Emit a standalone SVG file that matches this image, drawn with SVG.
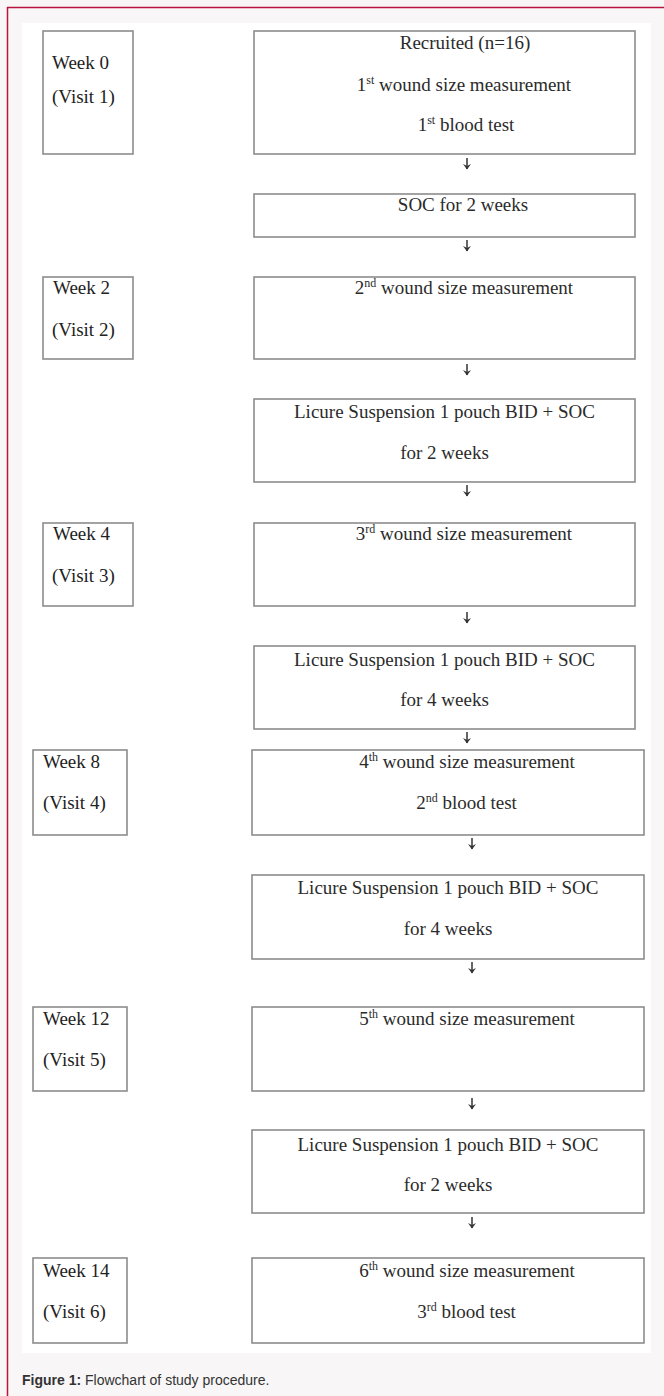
<svg xmlns="http://www.w3.org/2000/svg" width="664" height="1396" viewBox="0 0 664 1396">
<style>
.box{fill:#fff;stroke:#8c8c8c;stroke-width:1.6}
.t{font-family:"Liberation Serif","Times New Roman",serif;font-size:19px;fill:#2b2b2b}
.l{font-family:"Liberation Serif","Times New Roman",serif;font-size:19px;fill:#222}
.m{text-anchor:middle}
.arr{fill:none;stroke:#333;stroke-width:1.5}
.cap{font-family:"Liberation Sans",Arial,sans-serif;font-size:14px;fill:#333}
</style>
<defs>
<marker id="ah" viewBox="0 0 8 8" refX="7.5" refY="4" markerWidth="8" markerHeight="8" markerUnits="userSpaceOnUse" orient="auto">
<path d="M2.5 0L8 4L2.5 8L4.5 4Z" fill="#333"/>
</marker>
</defs>
<rect x="0" y="0" width="664" height="1396" fill="#f8f6f7"/>
<rect x="22" y="23" width="629" height="1330" fill="#fff"/>
<line x1="7" y1="7.5" x2="664" y2="7.5" stroke="#b8143f" stroke-width="1.5"/>
<line x1="7.5" y1="7" x2="7.5" y2="1396" stroke="#b8143f" stroke-width="1.5"/>

<g id="w0"><rect class="box" x="43" y="31" width="90" height="123"/><text class="l" x="52" y="69">Week 0</text><text class="l" x="52" y="103">(Visit 1)</text></g>
<g id="b1"><rect class="box" x="254" y="31" width="381" height="123"/>
<text class="t m" x="465" y="49">Recruited (n=16)</text>
<text class="t m" x="464" y="91">1<tspan font-size="12" dy="-7">st</tspan><tspan dy="7"> wound size measurement</tspan></text>
<text class="t m" x="466" y="131">1<tspan font-size="12" dy="-7">st</tspan><tspan dy="7"> blood test</tspan></text></g>

<g id="b2"><rect class="box" x="254" y="194" width="381" height="43"/><text class="t m" x="463" y="211">SOC for 2 weeks</text></g>

<g id="w2"><rect class="box" x="43" y="277" width="90" height="82"/><text class="l" x="53" y="294">Week 2</text><text class="l" x="52" y="336">(Visit 2)</text></g>
<g id="b3"><rect class="box" x="254" y="277" width="381" height="82"/><text class="t m" x="464" y="294">2<tspan font-size="12" dy="-7">nd</tspan><tspan dy="7"> wound size measurement</tspan></text></g>

<g id="b4"><rect class="box" x="254" y="399" width="381" height="83"/><text class="t m" x="444.5" y="418">Licure Suspension 1 pouch BID + SOC</text><text class="t m" x="444.5" y="459">for 2 weeks</text></g>

<g id="w4"><rect class="box" x="43" y="523" width="90" height="83"/><text class="l" x="53" y="540">Week 4</text><text class="l" x="52" y="582">(Visit 3)</text></g>
<g id="b5"><rect class="box" x="254" y="523" width="381" height="83"/><text class="t m" x="464" y="540">3<tspan font-size="12" dy="-7">rd</tspan><tspan dy="7"> wound size measurement</tspan></text></g>

<g id="b6"><rect class="box" x="254" y="646" width="381" height="83"/><text class="t m" x="444.5" y="666">Licure Suspension 1 pouch BID + SOC</text><text class="t m" x="444.5" y="706">for 4 weeks</text></g>

<g id="w8"><rect class="box" x="33" y="750" width="94" height="85"/><text class="l" x="43" y="768">Week 8</text><text class="l" x="43" y="809">(Visit 4)</text></g>
<g id="b7"><rect class="box" x="252" y="750" width="392" height="85"/><text class="t m" x="467" y="768">4<tspan font-size="12" dy="-7">th</tspan><tspan dy="7"> wound size measurement</tspan></text><text class="t m" x="466.5" y="809">2<tspan font-size="12" dy="-7">nd</tspan><tspan dy="7"> blood test</tspan></text></g>

<g id="b8"><rect class="box" x="252" y="875" width="392" height="84"/><text class="t m" x="448" y="894">Licure Suspension 1 pouch BID + SOC</text><text class="t m" x="448" y="935">for 4 weeks</text></g>

<g id="w12"><rect class="box" x="33" y="1007" width="94" height="84"/><text class="l" x="43" y="1025">Week 12</text><text class="l" x="43" y="1066">(Visit 5)</text></g>
<g id="b9"><rect class="box" x="252" y="1007" width="392" height="84"/><text class="t m" x="467" y="1025">5<tspan font-size="12" dy="-7">th</tspan><tspan dy="7"> wound size measurement</tspan></text></g>

<g id="b10"><rect class="box" x="252" y="1130" width="392" height="83"/><text class="t m" x="448" y="1151">Licure Suspension 1 pouch BID + SOC</text><text class="t m" x="448" y="1191">for 2 weeks</text></g>

<g id="w14"><rect class="box" x="33" y="1258" width="94" height="85"/><text class="l" x="43" y="1277">Week 14</text><text class="l" x="43" y="1318">(Visit 6)</text></g>
<g id="b11"><rect class="box" x="252" y="1258" width="392" height="85"/><text class="t m" x="467" y="1277">6<tspan font-size="12" dy="-7">th</tspan><tspan dy="7"> wound size measurement</tspan></text><text class="t m" x="466.5" y="1318">3<tspan font-size="12" dy="-7">rd</tspan><tspan dy="7"> blood test</tspan></text></g>

<g id="connectors">
<path class="arr" marker-end="url(#ah)" d="M467 158v11"/>
<path class="arr" marker-end="url(#ah)" d="M467 240v11"/>
<path class="arr" marker-end="url(#ah)" d="M467 364v11"/>
<path class="arr" marker-end="url(#ah)" d="M467 485v11"/>
<path class="arr" marker-end="url(#ah)" d="M467 612v11"/>
<path class="arr" marker-end="url(#ah)" d="M467 732v11"/>
<path class="arr" marker-end="url(#ah)" d="M472 838v11"/>
<path class="arr" marker-end="url(#ah)" d="M472 962v11"/>
<path class="arr" marker-end="url(#ah)" d="M472 1098v11"/>
<path class="arr" marker-end="url(#ah)" d="M472 1217v11"/>
</g>

<text class="cap" x="22" y="1385"><tspan font-weight="bold">Figure 1:</tspan> Flowchart of study procedure.</text>
</svg>
